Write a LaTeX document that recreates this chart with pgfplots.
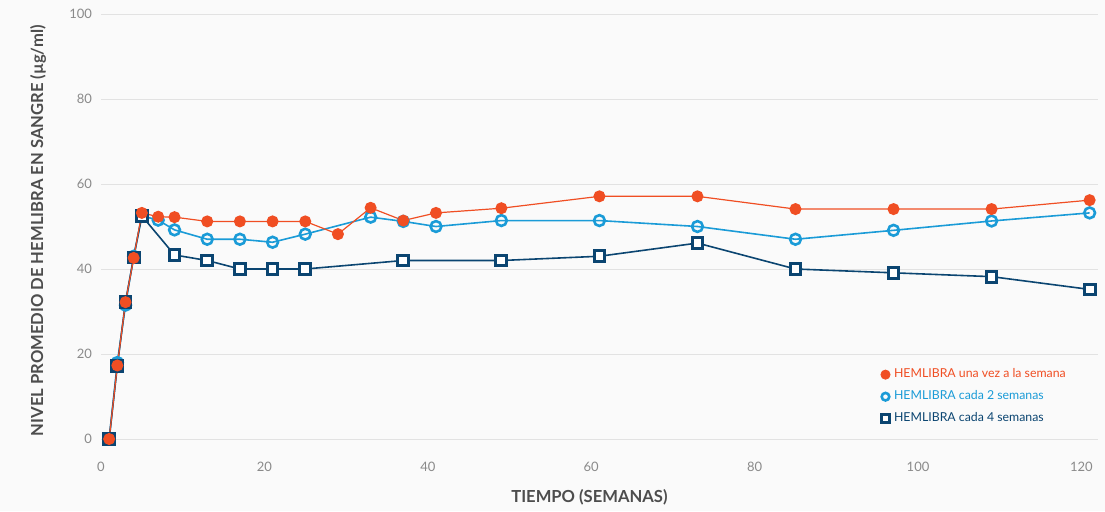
\documentclass[border=0pt]{standalone}
\usepackage{pgfplots}
\pgfplotsset{compat=1.18}
\usepackage{fontspec}
\setmainfont{Lato}
\definecolor{cred}{HTML}{F04E23}
\definecolor{cblue}{HTML}{1A9BD7}
\definecolor{cnavy}{HTML}{0B4571}
\definecolor{bg}{HTML}{FAFAFA}
\definecolor{tickc}{HTML}{8A8A8A}
\definecolor{labc}{HTML}{4D4D4D}
\definecolor{gridc}{HTML}{E2E2E2}
\begin{document}
\begin{tikzpicture}
\path[fill=bg, use as bounding box] (0,0) rectangle (552.5pt,255.5pt);
\begin{axis}[
  at={(50.5pt,36pt)}, anchor=south west,
  scale only axis, width=498.4pt, height=212.5pt,
  xmin=0, xmax=122, ymin=0, ymax=100,
  xtick={0,20,40,60,80,100,120},
  ytick={0,20,40,60,80,100},
  axis line style={draw=none},
  major tick length=0pt,
  ymajorgrids, grid style={gridc, line width=0.5pt},
  clip=false,
  /pgf/number format/assume math mode=true,
  tick label style={font=\fontsize{6.5}{7}\selectfont, text=tickc},
  xticklabel style={yshift=-8pt},
  yticklabel style={xshift=-1pt},
  xlabel={\textbf{TIEMPO (SEMANAS)}},
  ylabel={\textbf{NIVEL PROMEDIO DE HEMLIBRA EN SANGRE (µg/ml)}},
  label style={font=\fontsize{8.3}{9}\selectfont, text=labc},
  xlabel style={at={(axis description cs:0.49,0)}, anchor=center, yshift=-29pt},
  ylabel style={at={(axis description cs:-0.063,0.49)}, anchor=center, rotate=0},
  legend style={at={(rel axis cs:0.782,0.176)}, anchor=north west, draw=none, fill=none,
    font=\fontsize{6.15}{7}\selectfont, row sep=1.0pt, inner sep=0pt},
  legend cell align=left,
]
\addlegendimage{only marks, mark=*, mark size=2.3pt, color=cred}
\addlegendentry{\textcolor{cred}{HEMLIBRA una vez a la semana}}
\addlegendimage{only marks, mark=o, mark size=1.9pt, color=cblue, line width=1.3pt}
\addlegendentry{\textcolor{cblue}{HEMLIBRA cada 2 semanas}}
\addlegendimage{only marks, mark=square*, mark size=1.9pt, color=cnavy, fill=white, line width=1.5pt}
\addlegendentry{\textcolor{cnavy}{HEMLIBRA cada 4 semanas}}

% Q2W
\addplot[forget plot, color=cblue, line width=0.8pt, mark=o, mark size=2.7pt,
  mark options={fill=white, line width=1.3pt}] coordinates {
(1,0) (2,18) (3,31.5) (4,43) (5,52.5) (7,51.5) (9,49.2) (13,47) (17,47) (21,46.3)
(25,48.2) (33,52.2) (37,51.2) (41,50) (49,51.4) (61,51.4) (73,50) (85,47)
(97,49.1) (109,51.3) (121,53.2)};
% Q4W
\addplot[forget plot, color=cnavy, line width=0.8pt, mark=square*, mark size=2.7pt,
  mark options={fill=white, line width=1.5pt}] coordinates {
(1,0) (2,17.2) (3,32.3) (4,42.7) (5,52.5) (9,43.3) (13,42) (17,40) (21,40) (25,40)
(37,42) (49,42) (61,43) (73,46.1) (85,40) (97,39.1) (109,38.2) (121,35.2)};
% QW
\addplot[forget plot, color=cred, line width=0.6pt, mark=*, mark size=2.7pt] coordinates {
(1,0) (2,17.3) (3,32.2) (4,42.6) (5,53.2) (7,52.3) (9,52.2) (13,51.2) (17,51.2) (21,51.2)
(25,51.2) (29,48.2) (33,54.4) (37,51.4) (41,53.2) (49,54.3) (61,57.1) (73,57.1)
(85,54.1) (97,54.1) (109,54.1) (121,56.2)};
\end{axis}
\end{tikzpicture}
\end{document}
